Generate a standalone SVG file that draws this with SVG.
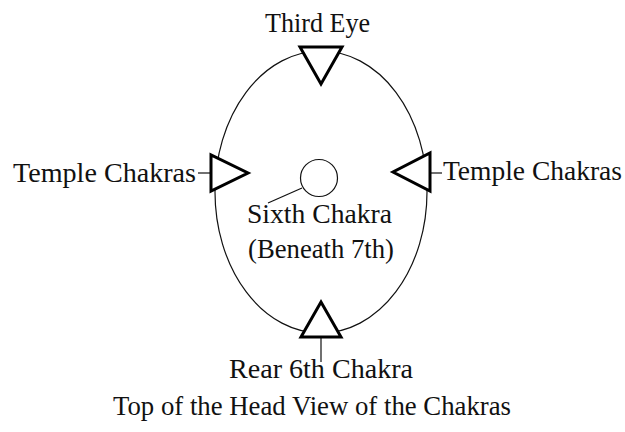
<svg xmlns="http://www.w3.org/2000/svg" width="625" height="432" viewBox="0 0 625 432">
<style>
text{font-family:"Liberation Serif","Times New Roman",serif;font-size:27.5px;fill:#111}
.tri{fill:#fff;stroke:#000;stroke-width:3;stroke-linejoin:miter}
.thin{fill:none;stroke:#111;stroke-width:1.2}
</style>
<rect width="625" height="432" fill="#fff"/>
<g id="head"><ellipse class="thin" cx="321" cy="192" rx="106" ry="141"/></g>
<g id="connectors">
<line class="thin" x1="198" y1="173" x2="211" y2="173"/>
<line class="thin" x1="430" y1="173" x2="442" y2="173"/>
<line class="thin" x1="321" y1="337" x2="321" y2="362"/>
<line class="thin" x1="268" y1="203" x2="302" y2="188"/>
</g>
<g id="third-eye"><polygon class="tri" points="300,47 342,47 321,84"/><text x="265" y="32" textLength="105" lengthAdjust="spacingAndGlyphs">Third Eye</text></g>
<g id="temple-left"><polygon class="tri" points="211,155 211,191 248,173"/><text x="13" y="182" textLength="183" lengthAdjust="spacingAndGlyphs">Temple Chakras</text></g>
<g id="temple-right"><polygon class="tri" points="430,153 430,191 393,172"/><text x="443" y="180" textLength="179" lengthAdjust="spacingAndGlyphs">Temple Chakras</text></g>
<g id="rear"><polygon class="tri" points="301,337 341,337 321,302"/><text x="229" y="378" textLength="184" lengthAdjust="spacingAndGlyphs">Rear 6th Chakra</text></g>
<g id="sixth"><circle class="thin" cx="319" cy="178" r="18.5"/><text x="247" y="223" textLength="145" lengthAdjust="spacingAndGlyphs">Sixth Chakra</text><text x="248" y="258" textLength="146" lengthAdjust="spacingAndGlyphs">(Beneath 7th)</text></g>
<text x="113" y="415" textLength="398" lengthAdjust="spacingAndGlyphs">Top of the Head View of the Chakras</text>
</svg>
